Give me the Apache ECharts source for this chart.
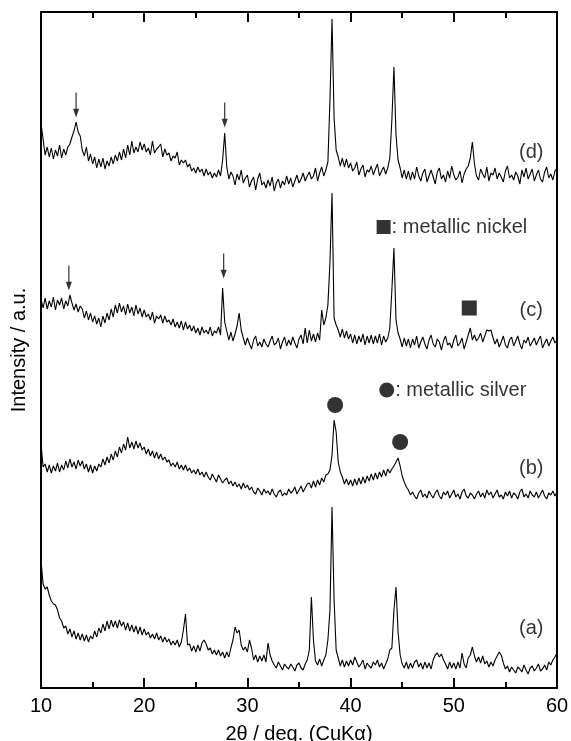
<!DOCTYPE html>
<html><head><meta charset="utf-8">
<script src="https://cdn.jsdelivr.net/npm/echarts@6/dist/echarts.min.js"></script>
<style>html,body{margin:0;padding:0;background:#fff}#c{width:571px;height:741px}</style>
</head><body><div id="c"></div>
<script>
// 2theta sampling: 10.0 .. 60.0 step 0.2 (251 points per pattern)
const xStart = 10, xStep = 0.2;
const xTicks = [10, 20, 30, 40, 50, 60];

// Intensities (a.u., stacked patterns as drawn), one row = 2 degrees
const traceA = [
128,104,99,101,93,87,84,83,78,70,
67,60,62,54,59,51,57,49,55,48,
54,47,53,46,52,49,57,51,60,55,
64,57,67,59,68,61,67,60,68,62,
66,58,65,57,63,56,62,54,61,53,
59,53,56,50,54,49,55,48,52,46,
51,46,49,43,47,43,48,41,46,58,
74,43,44,37,42,36,43,37,45,48,
44,38,40,34,38,33,38,32,36,30,
36,31,40,48,61,55,58,43,38,41,
36,48,40,28,33,26,32,27,33,26,
45,33,27,23,20,26,22,18,24,21,
19,24,21,17,23,25,20,18,24,28,
38,91,48,27,23,29,22,28,33,48,
78,181,88,38,30,22,28,21,27,22,
28,23,31,26,21,24,28,19,25,22,
20,26,23,28,21,25,19,24,29,38,
40,78,101,56,33,24,20,26,19,25,
20,26,28,21,25,19,26,20,25,19,
28,33,35,31,34,28,24,19,26,20,
25,19,26,20,35,24,20,30,33,41,
32,26,31,25,32,24,27,21,26,22,
28,32,36,33,25,19,22,16,21,18,
15,21,19,16,23,18,14,20,22,17,
20,24,17,19,23,18,26,23,28,31,
35];

const traceB = [
245,221,224,216,223,215,222,217,225,216,
223,218,227,220,229,221,226,219,228,222,
227,219,224,216,223,215,222,217,224,221,
229,223,231,225,234,228,237,231,241,235,
244,238,251,240,246,239,247,240,245,238,
241,234,239,232,237,230,236,229,234,228,
231,226,228,222,225,221,226,219,223,218,
223,217,220,215,218,214,219,213,216,211,
216,211,208,214,210,206,213,209,205,208,
210,204,207,202,206,201,204,199,205,200,
203,198,201,196,194,200,197,193,199,195,
197,193,199,194,191,196,198,192,195,193,
199,195,197,201,194,198,202,196,200,204,
205,200,207,201,208,203,210,206,213,214,
218,233,268,256,226,216,211,204,209,203,
208,202,209,203,210,204,211,205,212,207,
214,208,215,209,216,211,218,212,219,215,
219,222,226,230,222,212,206,201,198,193,
196,192,189,195,198,191,194,190,197,193,
190,195,198,192,189,196,193,197,190,194,
198,191,194,189,196,199,192,190,195,193,
189,194,197,191,195,190,198,193,196,190,
194,198,191,193,189,196,192,197,190,195,
193,189,196,199,191,194,190,197,193,191,
196,190,194,198,192,189,195,193,197,192,
196];

const traceC = [
389,380,390,379,387,381,391,378,388,383,
390,379,387,382,393,385,378,384,376,382,
379,370,377,368,375,366,372,364,370,361,
372,365,375,368,379,371,383,375,385,376,
382,373,384,375,381,372,383,374,380,371,
378,371,374,368,376,365,372,369,373,365,
372,366,368,363,369,361,366,360,367,358,
366,359,363,357,362,355,360,353,361,355,
358,354,361,352,357,355,361,353,400,366,
357,348,356,347,354,362,375,358,350,343,
350,344,339,348,352,342,346,341,349,344,
341,347,352,343,345,350,339,346,351,342,
348,343,351,345,340,349,353,344,360,345,
358,347,354,346,355,348,378,363,370,383,
426,495,370,363,358,351,359,350,357,349,
354,345,353,344,352,346,354,343,352,345,
353,344,352,345,354,343,352,346,350,360,
398,440,368,355,349,341,350,342,349,340,
349,343,352,340,346,351,344,339,348,353,
344,341,349,346,338,347,352,343,345,340,
348,353,342,345,350,339,346,353,360,348,
353,347,350,355,346,352,358,357,358,350,
344,349,341,346,352,343,340,348,351,342,
347,352,344,339,348,345,351,342,346,350,
343,348,352,340,345,349,342,347,351,345,
348];

const traceD = [
565,549,533,541,531,540,529,538,532,543,
530,539,533,541,544,551,557,566,556,552,
538,532,541,527,534,524,531,520,529,521,
530,519,527,522,531,524,533,527,536,528,
539,530,543,533,547,535,541,536,546,538,
544,536,540,533,547,535,539,541,544,531,
539,533,535,527,532,530,536,523,528,525,
528,521,524,517,520,515,521,516,519,512,
519,513,516,510,515,511,518,512,528,555,
521,509,516,512,503,514,508,518,505,510,
513,501,507,511,498,509,515,503,506,500,
508,502,511,497,505,509,500,507,503,512,
504,510,501,507,513,505,509,515,507,512,
516,509,512,520,507,515,521,512,518,526,
588,669,570,538,531,522,530,521,529,520,
525,517,520,526,513,519,523,511,518,516,
522,513,519,524,512,517,521,514,520,530,
568,621,553,528,520,510,518,509,517,508,
516,509,521,512,507,515,519,506,512,518,
511,504,516,520,509,513,506,517,510,522,
513,508,511,517,505,514,519,522,530,546,
524,512,508,519,514,510,521,507,515,513,
520,509,515,511,506,517,522,510,513,508,
516,512,504,518,511,520,509,514,519,507,
513,518,509,506,516,521,510,514,508,517,
520];

// Phase markers
const silverPeaks = [[38.5, 283], [44.8, 246]];
const nickelPeaks = [[51.5, 380]];
// Unknown-phase arrows (pattern d, then c)
const arrowPeaks = [[13.4, 583], [27.8, 573], [12.7, 410], [27.7, 422]];
// Pattern labels
const patternNames = ['(a)', '(b)', '(c)', '(d)'];
const patternLabelPos = [[57.5, 60], [57.5, 220], [57.5, 378], [57.5, 536]];
// Key entries
const keyNickel = [43.2, 461];
const keySilver = [43.5, 298];

function toPairs(arr) {
  return arr.map((v, i) => [+(xStart + i * xStep).toFixed(1), v]);
}

const FONT = '"Liberation Sans", Arial, Helvetica, sans-serif';
const chart = echarts.init(document.getElementById('c'), null, {renderer: 'canvas'});

const axisCommon = {
  type: 'value', min: 10, max: 60, interval: 10,
  axisLine: {show: true, onZero: false, lineStyle: {color: '#000', width: 2}},
  axisTick: {show: true, inside: true, length: 10, lineStyle: {color: '#000', width: 2}},
  minorTick: {show: true, splitNumber: 2, length: 6, lineStyle: {color: '#000', width: 2}},
  splitLine: {show: false}, minorSplitLine: {show: false}
};

const lineSeries = [traceA, traceB, traceC, traceD].map((t, k) => ({
  type: 'line', name: patternNames[k], data: toPairs(t),
  showSymbol: false, symbol: 'none', silent: true,
  lineStyle: {color: '#000', width: 1.1}, z: 3
}));

chart.setOption({
  animation: false,
  backgroundColor: '#fff',
  grid: {left: 41, right: 14, top: 12, bottom: 53, containLabel: false, outerBoundsMode: 'none'},
  xAxis: [
    Object.assign({}, axisCommon, {
      position: 'bottom',
      axisLabel: {show: true, color: '#000', fontSize: 20, fontFamily: FONT, margin: 8,
        formatter: v => (xTicks.indexOf(v) >= 0 ? String(v) : '')},
      name: '2θ / deg. (CuKα)', nameLocation: 'middle', nameGap: 36,
      nameTextStyle: {color: '#000', fontSize: 20, fontFamily: FONT}
    }),
    Object.assign({}, axisCommon, {position: 'top', axisLabel: {show: false}})
  ],
  yAxis: [
    {type: 'value', min: 0, max: 676, position: 'left',
     axisLine: {show: true, onZero: false, lineStyle: {color: '#000', width: 2}},
     axisTick: {show: false}, axisLabel: {show: false}, splitLine: {show: false},
     name: 'Intensity / a.u.', nameLocation: 'middle', nameGap: 12,
     nameTextStyle: {color: '#000', fontSize: 20, fontFamily: FONT}},
    {type: 'value', min: 0, max: 676, position: 'right',
     axisLine: {show: true, onZero: false, lineStyle: {color: '#000', width: 2}},
     axisTick: {show: false}, axisLabel: {show: false}, splitLine: {show: false}}
  ],
  series: lineSeries.concat([
    {type: 'scatter', data: silverPeaks, symbol: 'circle', symbolSize: 16,
     itemStyle: {color: '#000'}, silent: true, z: 5},
    {type: 'scatter', data: nickelPeaks, symbol: 'rect', symbolSize: 15,
     itemStyle: {color: '#000'}, silent: true, z: 5},
    {type: 'scatter', data: arrowPeaks,
     symbol: 'path://M2,0 L3,0 L3,17 L5,17 L2.5,26 L0,17 L2,17 Z', symbolSize: [6, 25],
     itemStyle: {color: '#000'}, silent: true, z: 5},
    {type: 'scatter', data: patternLabelPos.map((p, i) => ({value: p, name: patternNames[i]})),
     symbolSize: 1, itemStyle: {color: 'rgba(0,0,0,0)'}, silent: true, z: 6,
     label: {show: true, position: 'inside', formatter: p => p.name,
       color: '#000', fontSize: 20, fontFamily: FONT}},
    {type: 'scatter', data: [{value: keyNickel, name: ': metallic nickel'}],
     symbol: 'rect', symbolSize: 14, itemStyle: {color: '#000'}, silent: true, z: 6,
     label: {show: true, position: 'right', distance: 1, formatter: p => p.name,
       color: '#000', fontSize: 20, fontFamily: FONT}},
    {type: 'scatter', data: [{value: keySilver, name: ': metallic silver'}],
     symbol: 'circle', symbolSize: 15, itemStyle: {color: '#000'}, silent: true, z: 6,
     label: {show: true, position: 'right', distance: 1, formatter: p => p.name,
       color: '#000', fontSize: 20, fontFamily: FONT}}
  ])
});
</script>
</body></html>
